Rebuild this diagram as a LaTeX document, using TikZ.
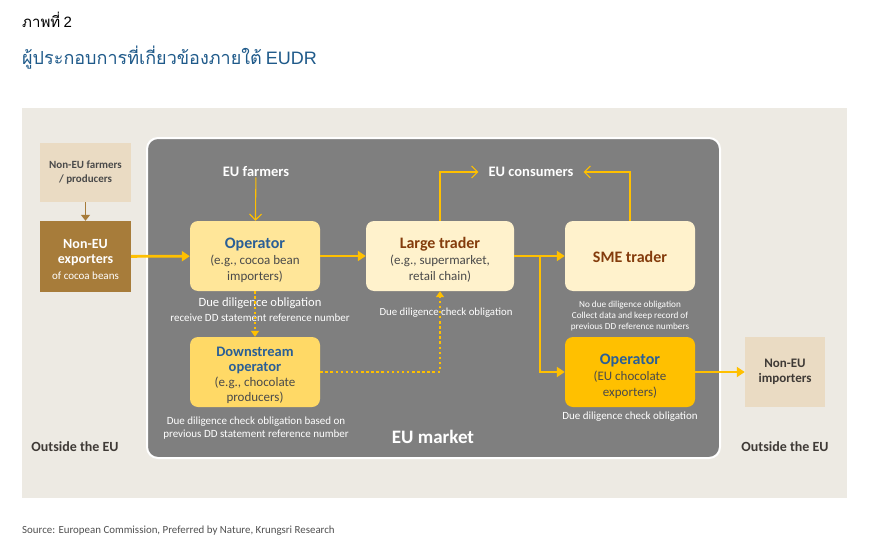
\documentclass[tikz,border=0pt]{standalone}
\usepackage{fontspec}
\setmainfont{Carlito}
\newfontfamily\thaifont[Script=Thai]{Loma}
\newfontfamily\arialf{Liberation Sans}
\usetikzlibrary{arrows.meta,positioning}
\definecolor{bgpanel}{HTML}{EDEAE3}
\definecolor{market}{HTML}{7F7F7F}
\definecolor{tan}{HTML}{EADBC3}
\definecolor{brownbox}{HTML}{A77C3A}
\definecolor{opfill}{HTML}{FFE699}
\definecolor{downfill}{HTML}{FFD966}
\definecolor{tradefill}{HTML}{FFF2CC}
\definecolor{op2fill}{HTML}{FFC000}
\definecolor{flow}{HTML}{FFC000}
\definecolor{bluetxt}{HTML}{2A5F96}
\definecolor{titleblue}{HTML}{1F5A8A}
\definecolor{browntxt}{HTML}{843C0C}
\definecolor{darktxt}{HTML}{4A4A4A}
\definecolor{outtxt}{HTML}{3F3A36}
\definecolor{srctxt}{HTML}{505050}
\definecolor{brownarrow}{HTML}{A77C3A}
\newcommand{\hT}[1]{{\fontsize{16}{17}\selectfont\bfseries\rule{0pt}{19pt}#1}}
\newcommand{\sT}[1]{{\fontsize{13}{15}\selectfont\color{darktxt}#1}}
\tikzset{
  rbox/.style={rounded corners=8pt, minimum width=130pt, minimum height=70pt, align=center, inner sep=2pt, font=\fontsize{13}{16}\selectfont},
  sqbox/.style={minimum width=91pt, align=center, inner sep=2pt},
  mainflow/.style={draw=flow, line width=2.8pt, -{Triangle[length=8pt,width=10pt]}},
  thinflow/.style={draw=flow, line width=1.1pt, -{Straight Barb[length=6pt,width=12pt]}},
  dotflow/.style={draw=flow, line width=2.5pt, dash pattern=on 2.5pt off 2.6pt, -{Triangle[length=6pt,width=8pt]}},
  note/.style={text=white, align=center, inner sep=0pt},
}
\begin{document}
\begin{tikzpicture}[x=1pt,y=-1pt]
\useasboundingbox (0,0) rectangle (870,551);
\fill[white] (0,0) rectangle (870,551);
% titles
\node[anchor=west, inner sep=0pt] (t1) at (22,20) {\fontsize{15}{17}\selectfont{\thaifont ภาพที่}~\arialf 2};
\node[anchor=west, inner sep=0pt, text=titleblue] (t2) at (22,58) {\fontsize{18}{20}\selectfont{\thaifont ผู้ประกอบการที่เกี่ยวข้องภายใต้}~\arialf EUDR};
% panels
\fill[bgpanel] (22,108) rectangle (847,498);
\draw[white, line width=2pt, fill=market, rounded corners=11pt] (147,138) rectangle (720,458);
% outside boxes
\node[sqbox, fill=tan, minimum height=59pt, text=darktxt, font=\fontsize{11}{14}\selectfont\bfseries] (nfarm) at (85.5,172.5) {Non-EU farmers\\/ producers};
\node[sqbox, fill=brownbox, minimum height=71pt, text=white, font=\fontsize{13}{15.5}\selectfont] (nexp) at (85.5,256.5) {{\fontsize{14}{15}\selectfont\bfseries\rule{0pt}{15pt}Non-EU}\\{\fontsize{14}{15}\selectfont\bfseries exporters}\\{\fontsize{11}{12}\selectfont of cocoa beans}};
\node[minimum width=80pt, minimum height=70pt, fill=tan, align=center, text=outtxt, font=\fontsize{13}{15.5}\selectfont\bfseries] (nimp) at (785,372) {Non-EU\\importers};
% EU boxes
\node[rbox, fill=opfill] (op) at (255,256) {\hT{\color{bluetxt}Operator}\\\sT{(e.g., cocoa bean}\\\sT{importers)}};
\node[rbox, fill=downfill, font=\fontsize{13}{15}\selectfont] (down) at (255,372) {{\fontsize{14.5}{15}\selectfont\bfseries\color{bluetxt}\rule{0pt}{16pt}Downstream}\\{\fontsize{14.5}{15}\selectfont\bfseries\color{bluetxt}operator}\\\sT{(e.g., chocolate}\\\sT{producers)}};
\node[rbox, fill=tradefill, minimum width=148pt] (large) at (440,256) {\hT{\color{browntxt}Large trader}\\\sT{(e.g., supermarket,}\\\sT{retail chain)}};
\node[rbox, fill=tradefill] (sme) at (630,256) {{\fontsize{16}{17}\selectfont\bfseries\color{browntxt}\rule{0pt}{14pt}SME trader}};
\node[rbox, fill=op2fill] (op2) at (630,372) {\hT{\color{bluetxt}Operator}\\\sT{(EU chocolate}\\\sT{exporters)}};
% labels
\node[note, font=\fontsize{14.5}{16}\selectfont\bfseries] (euf) at (256,172) {EU farmers};
\node[note, font=\fontsize{14.5}{16}\selectfont\bfseries, inner xsep=10pt] (cons) at (531,172) {EU consumers};
\node[note, font=\fontsize{19}{21}\selectfont\bfseries] (mkt) at (433,437) {EU market};
\node[inner sep=0pt, text=outtxt, font=\fontsize{14}{16}\selectfont\bfseries] (out1) at (75,447) {Outside the EU};
\node[inner sep=0pt, text=outtxt, font=\fontsize{14}{16}\selectfont\bfseries] (out2) at (785,447) {Outside the EU};
\node[note, font=\fontsize{12.6}{14}\selectfont] (n1) at (260,303) {Due diligence obligation};
\node[note, font=\fontsize{11}{12}\selectfont] (n2) at (260,318) {receive DD statement reference number};
\node[note, font=\fontsize{10.8}{12}\selectfont] (n3) at (446,313) {Due diligence check obligation};
\node[note, font=\fontsize{9.2}{11}\selectfont] (n4) at (630,316) {No due diligence obligation\\Collect data and keep record of\\previous DD reference numbers};
\node[note, font=\fontsize{11}{13}\selectfont] (n5) at (256,428) {Due diligence check obligation based on\\previous DD statement reference number};
\node[note, font=\fontsize{11}{13}\selectfont] (n6) at (630,417) {Due diligence check obligation};
\node[anchor=west, inner sep=0pt, text=srctxt, font=\fontsize{10.9}{12}\selectfont] (src) at (22,531) {Source: European Commission, Preferred by Nature, Krungsri Research};
% connectors
\draw[draw=brownarrow, line width=1.3pt, -{Triangle[length=6pt,width=9pt]}] (nfarm) -- (nexp);
\draw[mainflow] (nexp) -- (op);
\draw[thinflow] (euf) -- (op);
\draw[mainflow] (op) -- (large);
\draw[dotflow] (op) -- (down);
\draw[dotflow] (down.east) -| (large.south);
\draw[thinflow] (large.north) |- (cons.west);
\draw[thinflow] (sme.north) |- (cons.east);
\coordinate (br) at (540,256);
\draw[mainflow] (large) -- (sme);
\draw[mainflow] (br) |- (op2.west);
\draw[mainflow] (op2) -- (nimp);
\end{tikzpicture}
\end{document}
